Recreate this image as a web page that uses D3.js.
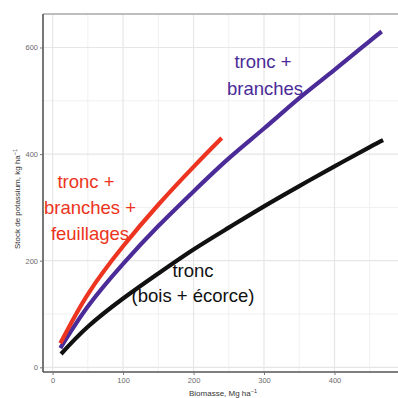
<!DOCTYPE html>
<html><head><meta charset="utf-8">
<script src="https://cdn.jsdelivr.net/npm/d3@7"></script>
<style>body{margin:0;background:#fff;}svg{display:block;font-family:"Liberation Sans",Arial,sans-serif;}</style>
</head><body>
<svg id="c" width="398" height="398"></svg>
<script>
const xTicks = [0, 100, 200, 300, 400];
const yTicks = [0, 200, 400, 600];
const xMinor = [50, 150, 250, 350, 450];
const yMinor = [100, 300, 500];

const troncX = [12, 50, 100, 150, 200, 250, 300, 350, 400, 450, 469];
const troncY = [25, 76, 129, 176, 221, 262, 302, 340, 377, 413, 426];
const branchesX = [11, 50, 100, 150, 200, 250, 300, 350, 400, 450, 467];
const branchesY = [36, 114, 194, 265, 330, 392, 448, 505, 558, 612, 630];
const feuillesX = [11, 50, 100, 150, 200, 240];
const feuillesY = [45, 137, 227, 305, 376, 430];

const series = [
  {name: "tronc", xs: troncX, ys: troncY, color: "#111111"},
  {name: "branches", xs: branchesX, ys: branchesY, color: "#4b2b97"},
  {name: "feuillages", xs: feuillesX, ys: feuillesY, color: "#ec3420"}
];

const svg = d3.select("#c");
const L = 43, T = 14, R = 402, B = 372;
const x = d3.scaleLinear().domain([-13.6, 495.8]).range([L, R]);
const y = d3.scaleLinear().domain([-8.8, 662.8]).range([B, T]);

const g = svg.append("g");
// grid
g.selectAll(".xm").data(xMinor).enter().append("line")
  .attr("x1", d => x(d)).attr("x2", d => x(d)).attr("y1", T).attr("y2", B)
  .attr("stroke", "#f0f0f0").attr("stroke-width", 1);
g.selectAll(".ym").data(yMinor).enter().append("line")
  .attr("y1", d => y(d)).attr("y2", d => y(d)).attr("x1", L).attr("x2", R)
  .attr("stroke", "#f0f0f0").attr("stroke-width", 1);
g.selectAll(".xg").data(xTicks).enter().append("line")
  .attr("x1", d => x(d)).attr("x2", d => x(d)).attr("y1", T).attr("y2", B)
  .attr("stroke", "#e6e6e6").attr("stroke-width", 1.2);
g.selectAll(".yg").data(yTicks).enter().append("line")
  .attr("y1", d => y(d)).attr("y2", d => y(d)).attr("x1", L).attr("x2", R)
  .attr("stroke", "#e6e6e6").attr("stroke-width", 1.2);

// border
g.append("line").attr("x1", L).attr("x2", R).attr("y1", T).attr("y2", T)
  .attr("stroke", "#a8a8a8").attr("stroke-width", 1.6);

// lines
const line = d3.line().x(d => x(d[0])).y(d => y(d[1])).curve(d3.curveNatural);
series.forEach(s => {
  const pts = s.xs.map((v, i) => [v, s.ys[i]]);
  g.append("path").attr("d", line(pts)).attr("fill", "none")
    .attr("stroke", s.color).attr("stroke-width", 4.2).attr("stroke-linecap", "butt");
});

// axes
const xAxis = d3.axisBottom(x).tickValues(xTicks).tickSize(3).tickPadding(3);
const yAxis = d3.axisLeft(y).tickValues(yTicks).tickSize(3).tickPadding(2);
const gx = svg.append("g").attr("transform", `translate(0,${B})`).call(xAxis);
const gy = svg.append("g").attr("transform", `translate(${L},0)`).call(yAxis);
[gx, gy].forEach(a => {
  a.select(".domain").attr("stroke", "#555").attr("stroke-width", 1.6);
  a.selectAll(".tick line").attr("stroke", "#777");
  a.selectAll(".tick text").attr("fill", "#6a6a6a").style("font-size", "7.5px")
    .style("font-family", "'Liberation Sans',Arial,sans-serif");
});
gx.select(".domain").attr("d", `M${L},0H${R}`);
gy.select(".domain").attr("d", `M0,${T}V${B}`);

// axis titles
const xt = svg.append("text").attr("x", 223).attr("y", 396).attr("text-anchor", "middle")
  .attr("fill", "#333").style("font-size", "8px");
xt.append("tspan").text("Biomasse, Mg ha");
xt.append("tspan").attr("dy", -3).style("font-size", "5.5px").text("−1");

const yt = svg.append("text").attr("transform", "translate(20,199) rotate(-90)")
  .attr("text-anchor", "middle").attr("fill", "#333").style("font-size", "8px");
yt.append("tspan").text("Stock de potassium, kg ha");
yt.append("tspan").attr("dy", -3).style("font-size", "5.5px").text("−1");

// annotations
const ann = [
  {t: "tronc +", x: 263, y: 68, c: "#4b2b97"},
  {t: "branches", x: 265, y: 95, c: "#4b2b97"},
  {t: "tronc +", x: 86, y: 188, c: "#ec3420"},
  {t: "branches +", x: 90, y: 214, c: "#ec3420"},
  {t: "feuillages", x: 90, y: 240, c: "#ec3420"},
  {t: "tronc", x: 193, y: 277, c: "#111"},
  {t: "(bois + écorce)", x: 193, y: 302, c: "#111"}
];
svg.selectAll(".ann").data(ann).enter().append("text")
  .attr("x", d => d.x).attr("y", d => d.y).attr("text-anchor", "middle")
  .attr("fill", d => d.c).style("font-size", "18.5px").text(d => d.t);
</script>
</body></html>
